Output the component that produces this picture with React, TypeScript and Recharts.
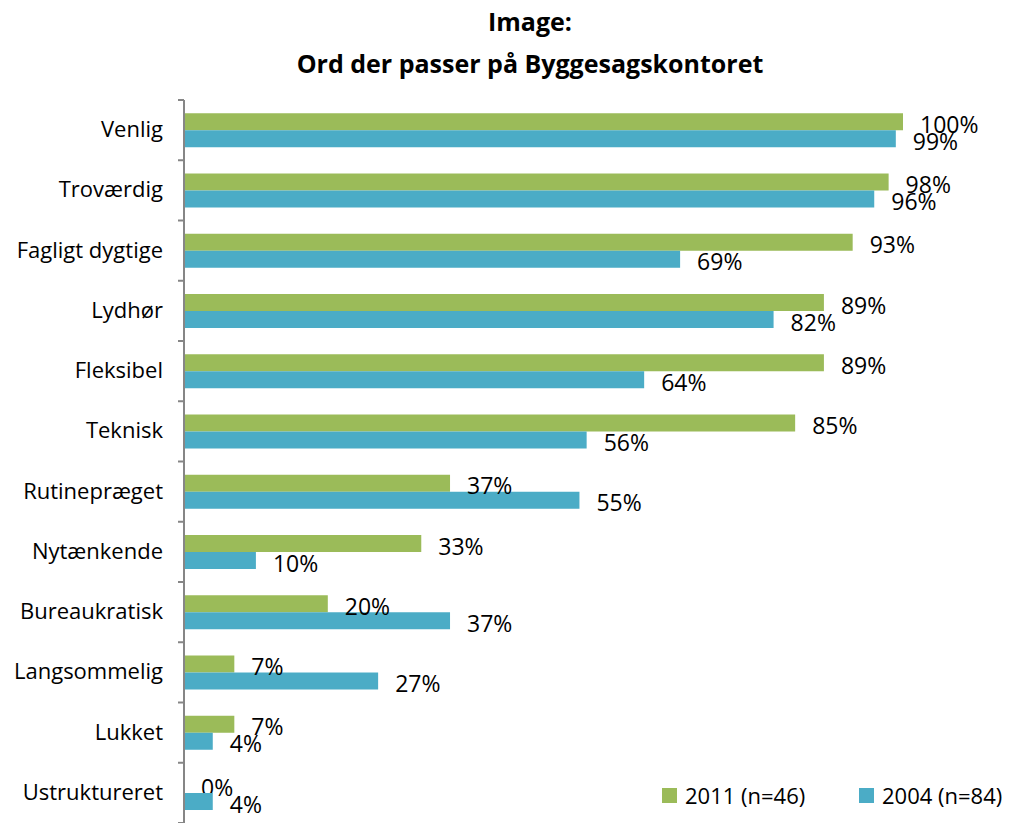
import React from "react";
import { BarChart, Bar, XAxis, YAxis, LabelList } from "recharts";

const categories = [
  "Venlig",
  "Troværdig",
  "Fagligt dygtige",
  "Lydhør",
  "Fleksibel",
  "Teknisk",
  "Rutinepræget",
  "Nytænkende",
  "Bureaukratisk",
  "Langsommelig",
  "Lukket",
  "Ustruktureret",
];
const values2011 = [100, 98, 93, 89, 89, 85, 37, 33, 20, 7, 7, 0];
const values2004 = [99, 96, 69, 82, 64, 56, 55, 10, 37, 27, 4, 4];
const seriesNames = ["2011 (n=46)", "2004 (n=84)"];
const colors = ["#9BBB59", "#4BACC6"];

const data = categories.map((c, i) => ({
  name: c,
  s2011: values2011[i],
  s2004: values2004[i],
}));

const W = 1013;
const H = 823;
const TOP = 100;
const BAND = (H - TOP) / categories.length;
const FONT = "'Open Sans', sans-serif";

const CatTick = (props: any) => {
  const { y, payload, index } = props;
  const last = index === categories.length - 1;
  return (
    <g>
      <text
        x={163}
        y={y}
        dy={7}
        textAnchor="end"
        fontSize={22}
        fontFamily={FONT}
        fill="#000"
      >
        {payload.value}
      </text>
      <line x1={178} x2={184} y1={y - BAND / 2} y2={y - BAND / 2} stroke="#868686" strokeWidth={2} />
      {last ? (
        <line x1={178} x2={184} y1={y + BAND / 2} y2={y + BAND / 2} stroke="#868686" strokeWidth={2} />
      ) : null}
    </g>
  );
};

const labelText = (x: number, y: number, value: any) => (
  <text x={x + 17} y={y} dy={11} fontSize={23} fontFamily={FONT} fill="#000">
    {value}%
  </text>
);

const ValLabel = (props: any) => {
  const { x, y, width, height, value } = props;
  if (!width) return null;
  return labelText(x + width, y + height / 2, value);
};

const makeShape = (key: string) => (props: any) => {
  const { x, y, width, height, fill, payload } = props;
  const w = Math.max(0, width || 0);
  const value = payload ? payload[key] : props.value;
  return (
    <g>
      {w > 0 ? <rect x={x} y={y} width={w} height={height} fill={fill} /> : null}
      {w === 0 ? labelText(x, y + height / 2, value) : null}
    </g>
  );
};

export default function App() {
  return (
    <div style={{ position: "absolute", left: 0, top: 0, width: W, height: H, background: "#fff", overflow: "hidden" }}>
      <div
        style={{
          position: "absolute",
          left: 0,
          width: 1060,
          top: 0,
          textAlign: "center",
          fontFamily: FONT,
          fontWeight: 700,
          fontSize: 25,
          lineHeight: "42px",
          color: "#000",
        }}
      >
        <div>Image:</div>
        <div>Ord der passer på Byggesagskontoret</div>
      </div>
      <BarChart
        width={W}
        height={H}
        data={data}
        layout="vertical"
        margin={{ top: TOP, right: 110, bottom: 0, left: 0 }}
        barCategoryGap="22%"
        barGap={0}
      >
        <XAxis type="number" domain={[0, 100]} hide />
        <YAxis
          type="category"
          dataKey="name"
          width={184}
          axisLine={{ stroke: "#868686", strokeWidth: 2 }}
          tickLine={false}
          tick={<CatTick />}
          interval={0}
        />
        <Bar dataKey="s2011" fill={colors[0]} isAnimationActive={false} shape={makeShape("s2011")}>
          <LabelList dataKey="s2011" content={<ValLabel />} />
        </Bar>
        <Bar dataKey="s2004" fill={colors[1]} isAnimationActive={false} shape={makeShape("s2004")}>
          <LabelList dataKey="s2004" content={<ValLabel />} />
        </Bar>
      </BarChart>
      {seriesNames.map((n, i) => (
        <div
          key={n}
          style={{
            position: "absolute",
            top: 780,
            left: i === 0 ? 662 : 859,
            height: 30,
            display: "flex",
            alignItems: "center",
            fontFamily: FONT,
            fontSize: 22,
            color: "#000",
            whiteSpace: "nowrap",
          }}
        >
          <span style={{ display: "inline-block", width: 15, height: 15, background: colors[i], marginRight: 8 }} />
          <span>{n}</span>
        </div>
      ))}
    </div>
  );
}
